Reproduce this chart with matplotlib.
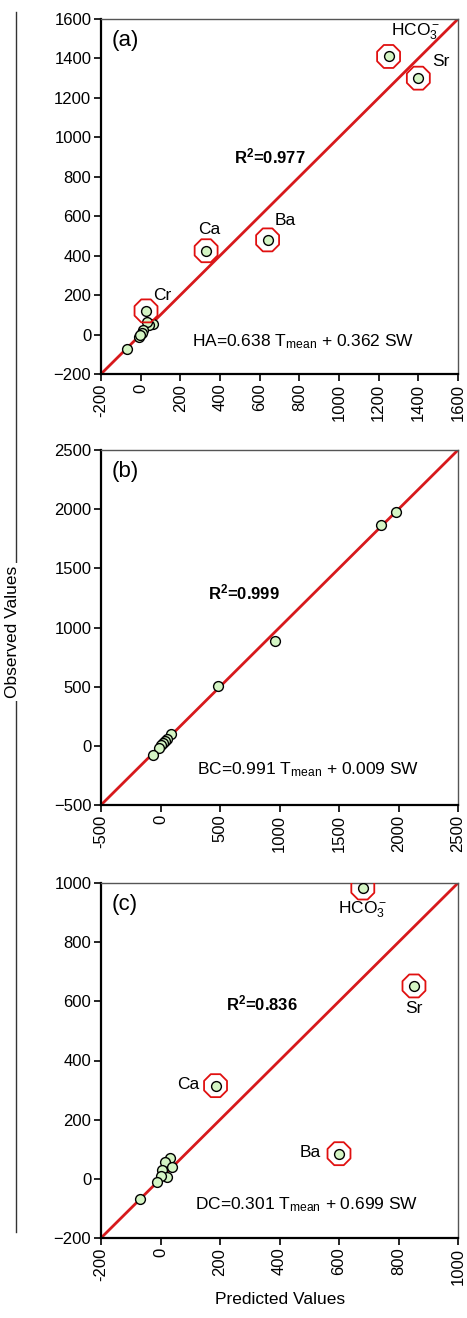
import numpy as np
import matplotlib.pyplot as plt
from matplotlib.lines import Line2D

plt.rcParams['font.family'] = ['Liberation Sans', 'DejaVu Sans']
plt.rcParams['mathtext.fontset'] = 'custom'
plt.rcParams['mathtext.rm'] = 'Liberation Sans'
plt.rcParams['mathtext.it'] = 'Liberation Sans'
plt.rcParams['mathtext.bf'] = 'Liberation Sans:bold'
plt.rcParams['mathtext.default'] = 'regular'

# panel (a) HA
a_pred = [1250, 1400, 330, 640, 27, 62, 42, 30, 12, 5, -8, -2, -70]
a_obs = [1410, 1300, 425, 480, 120, 55, 48, 62, 25, 10, -10, 0, -72]
a_out = [0, 1, 2, 3, 4]
a_lab = [r'HCO$_3^-$', 'Sr', 'Ca', 'Ba', 'Cr']

# panel (b) BC
b_pred = [1975, 1850, 960, 480, 88, 55, 35, 20, 0, -13, -60]
b_obs = [1975, 1870, 885, 505, 100, 55, 40, 24, 5, -18, -75]

# panel (c) DC
c_pred = [680, 852, 185, 600, 32, 15, 38, 5, 22, 0, -12, -69]
c_obs = [983, 652, 315, 85, 70, 56, 39, 29, 6, 8, -11, -68]
c_out = [0, 1, 2, 3]
c_lab = [r'HCO$_3^-$', 'Sr', 'Ca', 'Ba']

W, H = 467, 1318
fig = plt.figure(figsize=(W / 100, H / 100), dpi=100)

def px(x0, y0, x1, y1):
    return [x0 / W, 1 - y1 / H, (x1 - x0) / W, (y1 - y0) / H]

def panel(rect, lo, hi, step, pred, obs, out, tag, r2, r2xy, eq, eqxy):
    ax = fig.add_axes(rect)
    ax.set_xlim(lo, hi)
    ax.set_ylim(lo, hi)
    ax.plot([lo, hi], [lo, hi], color='#d7191c', lw=2, zorder=1)
    ax.scatter(pred, obs, s=50, c='#d4f5c4', edgecolors='black', linewidths=1, zorder=3)
    ax.scatter([pred[i] for i in out], [obs[i] for i in out], s=320, marker='8',
               facecolors='none', edgecolors='#e01010', linewidths=1.3, zorder=4)
    t = np.arange(lo, hi + 1, step)
    ax.set_xticks(t)
    ax.set_yticks(t)
    ax.set_xticklabels([str(v) for v in t], rotation=90)
    ax.tick_params(labelsize=12, direction='out', length=5, width=1.2, pad=2)
    for s in ['top', 'right']:
        ax.spines[s].set_color('#555555')
        ax.spines[s].set_linewidth(1)
    for s in ['left', 'bottom']:
        ax.spines[s].set_linewidth(1.6)
    ax.text(0.03, 0.97, tag, transform=ax.transAxes, fontsize=16, va='top')
    ax.text(r2xy[0], r2xy[1], r2, transform=ax.transAxes, fontsize=12,
            fontweight='bold', ha='center', va='center')
    ax.text(eqxy[0], eqxy[1], eq, transform=ax.transAxes, fontsize=12.5,
            ha='center', va='center')
    return ax

ax = panel(px(101, 19, 458, 374), -200, 1600, 200, a_pred, a_obs, a_out, '(a)',
           r'R$^\mathbf{2}$=0.977', (0.473, 0.614),
           r'HA=0.638 T$_{mean}$ + 0.362 SW', (0.565, 0.09))
a_txt = [(1262, 1534), (1470, 1387), (290, 535), (677, 580), (62, 198)]
for i, (x, y) in zip(a_out, a_txt):
    ax.text(x, y, a_lab[i], fontsize=12.5, ha='left', va='center')

ax = panel(px(101, 450, 458, 805), -500, 2500, 500, b_pred, b_obs, [], '(b)',
           r'R$^\mathbf{2}$=0.999', (0.4, 0.6),
           r'BC=0.991 T$_{mean}$ + 0.009 SW', (0.58, 0.1))

ax = panel(px(101, 883, 458, 1238), -200, 1000, 200, c_pred, c_obs, c_out, '(c)',
           r'R$^\mathbf{2}$=0.836', (0.45, 0.66),
           r'DC=0.301 T$_{mean}$ + 0.699 SW', (0.575, 0.093))
c_txt = [(680, 910), (852, 575), (130, 320), (540, 90)]
c_ha = ['center', 'center', 'right', 'right']
for i, (x, y), h in zip(c_out, c_txt, c_ha):
    ax.text(x, y, c_lab[i], fontsize=12.5, ha=h, va='center')

fig.text(280 / W, 1 - 1300 / H, 'Predicted Values', fontsize=12.5, ha='center', va='center')
fig.text(13 / W, 1 - 632 / H, 'Observed Values', fontsize=12.5, rotation=90,
         ha='center', va='center', bbox=dict(facecolor='white', edgecolor='none', pad=2))
fig.add_artist(Line2D([16 / W, 16 / W], [1 - 12 / H, 1 - 1232 / H], color='#333333', lw=1, zorder=0))

fig.savefig('out.png', dpi=100)
